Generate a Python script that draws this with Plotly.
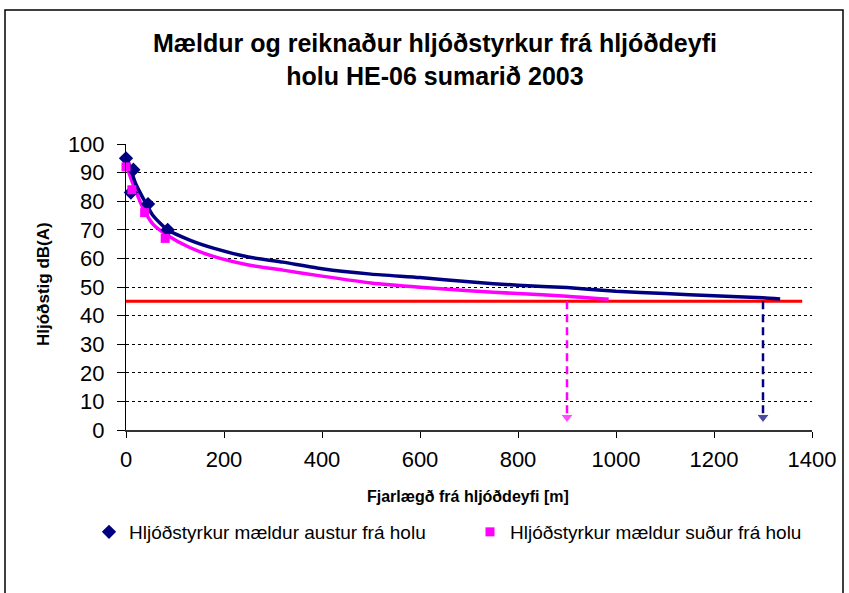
import plotly.graph_objects as go

# Measured sound levels near the silencer (distance in m, level in dB(A))
east_dist = [0, 10, 15, 45, 85]
east_level = [95, 83, 91, 79, 70]
south_dist = [0, 12, 38, 80]
south_level = [92, 84, 76, 67]

# Calculated attenuation with distance
east_calc_dist = [2, 10, 20, 35, 55, 85, 130, 180, 250, 320, 400, 500, 600, 700,
                  800, 900, 1000, 1100, 1200, 1300, 1335]
east_calc_level = [95, 91, 86, 81, 75, 70, 66.4, 63.5, 60.5, 58.7, 56.4, 54.5, 53.3,
                   51.8, 50.6, 49.8, 48.5, 47.7, 46.9, 46.2, 45.8]
south_calc_dist = [2, 10, 20, 35, 55, 85, 130, 180, 250, 320, 400, 500, 600, 700,
                   800, 900, 985]
south_calc_level = [92, 88, 83.5, 77.5, 72, 68, 63.8, 60.6, 57.7, 55.9, 53.8, 51.4,
                    49.9, 48.7, 47.7, 46.8, 45.7]

# Limit level and the distances where each curve reaches it
limit_level = 45
limit_span = [-10, 1380]
cross_dist_south = 900
cross_dist_east = 1300
arrow_floor = 4.5

x_ticks = [0, 200, 400, 600, 800, 1000, 1200, 1400]
y_ticks = [0, 10, 20, 30, 40, 50, 60, 70, 80, 90, 100]

NAVY = "#000080"
MAGENTA = "#FF00FF"
RED = "#FF0000"
FONT = "Liberation Sans, Arial, sans-serif"

W, H = 849, 593
L, R, T, B = 126, 37, 144, 163
pw, ph = W - L - R, H - T - B


def px_to_paper_x(px):
    return (px - L) / pw


def px_to_paper_y(py):
    return (H - B - py) / ph


fig = go.Figure()

# limit line
fig.add_trace(go.Scatter(
    x=limit_span, y=[limit_level, limit_level], mode="lines",
    line=dict(color=RED, width=3), showlegend=False, hoverinfo="skip",
    cliponaxis=False))

# calculated curves
fig.add_trace(go.Scatter(
    x=south_calc_dist, y=south_calc_level, mode="lines",
    line=dict(color=MAGENTA, width=3.5, shape="spline", smoothing=0.6), showlegend=False))
fig.add_trace(go.Scatter(
    x=east_calc_dist, y=east_calc_level, mode="lines",
    line=dict(color=NAVY, width=3.5, shape="spline", smoothing=0.6), showlegend=False))

# dashed arrows down to the distance axis
for d, col in [(cross_dist_south, MAGENTA), (cross_dist_east, NAVY)]:
    fig.add_trace(go.Scatter(
        x=[d, d], y=[limit_level, arrow_floor], mode="lines+markers",
        line=dict(color=col, width=2.5, dash="8px,5px"),
        marker=dict(symbol="triangle-down", size=[0, 11], color=col),
        showlegend=False, hoverinfo="skip"))

# measured points, each with its own legend box
fig.add_trace(go.Scatter(
    x=east_dist, y=east_level, mode="markers", name="Hljóðstyrkur mældur austur frá holu",
    marker=dict(symbol="diamond", size=11, color=NAVY), cliponaxis=False,
    legend="legend"))
fig.add_trace(go.Scatter(
    x=south_dist, y=south_level, mode="markers", name="Hljóðstyrkur mældur suður frá holu",
    marker=dict(symbol="square", size=9, color=MAGENTA), cliponaxis=False,
    legend="legend2"))

legend_style = dict(
    orientation="h", y=px_to_paper_y(532), xanchor="left", yanchor="middle",
    font=dict(size=19, family=FONT, color="black"),
    bgcolor="rgba(0,0,0,0)", borderwidth=0)

fig.update_layout(
    width=W, height=H,
    margin=dict(l=L, r=R, t=T, b=B, pad=0),
    paper_bgcolor="white", plot_bgcolor="white",
    font=dict(family=FONT, color="black"),
    showlegend=True,
    legend=dict(x=px_to_paper_x(89), **legend_style),
    legend2=dict(x=px_to_paper_x(470), **legend_style),
    xaxis=dict(
        range=[0, 1400], tickvals=x_ticks, ticks="outside", ticklen=6,
        tickcolor="black", tickwidth=1, showline=True, linecolor="#333", linewidth=1.5,
        showgrid=False, zeroline=False, ticklabelstandoff=3,
        tickfont=dict(size=22, family=FONT, color="black")),
    yaxis=dict(
        range=[0, 100], tickvals=y_ticks, ticks="outside", ticklen=8,
        tickcolor="black", tickwidth=1, showline=True, linecolor="black", linewidth=1,
        showgrid=True, gridcolor="black", gridwidth=1, griddash="3px,3px",
        zeroline=False, ticklabelstandoff=8,
        tickfont=dict(size=22, family=FONT, color="black")),
    annotations=[
        dict(text="<b>Mældur og reiknaður hljóðstyrkur frá hljóðdeyfi<br>holu HE-06 sumarið 2003</b>",
             xref="paper", yref="paper", x=px_to_paper_x(435), y=px_to_paper_y(60),
             xanchor="center", yanchor="middle", showarrow=False,
             font=dict(size=25, family=FONT, color="black")),
        dict(text="<b>Fjarlægð frá hljóðdeyfi [m]</b>",
             xref="paper", yref="paper", x=px_to_paper_x(468), y=px_to_paper_y(496),
             xanchor="center", yanchor="middle", showarrow=False,
             font=dict(size=16, family=FONT, color="black")),
        dict(text="<b>Hljóðstig dB(A)</b>", textangle=-90,
             xref="paper", yref="paper", x=px_to_paper_x(43), y=px_to_paper_y(284),
             xanchor="center", yanchor="middle", showarrow=False,
             font=dict(size=17, family=FONT, color="black")),
    ],
    shapes=[
        # chart frame, open at the bottom
        dict(type="path", xref="paper", yref="paper",
             path=(f"M {px_to_paper_x(5)},{px_to_paper_y(593)} "
                   f"L {px_to_paper_x(5)},{px_to_paper_y(10)} "
                   f"L {px_to_paper_x(843)},{px_to_paper_y(10)} "
                   f"L {px_to_paper_x(843)},{px_to_paper_y(593)}"),
             line=dict(color="black", width=1.5)),
    ],
)

fig.write_html("out.html")
